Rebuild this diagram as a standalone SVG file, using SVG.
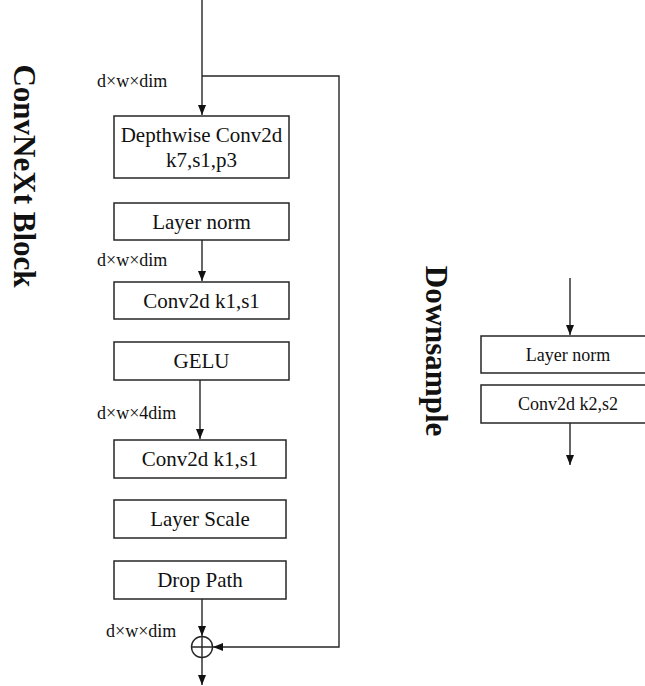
<svg xmlns="http://www.w3.org/2000/svg" width="645" height="686" viewBox="0 0 645 686">
<defs>
<style>
.box{fill:#fff;stroke:#262626;stroke-width:1.5}
.t{font-family:"Liberation Serif","Times New Roman",serif;fill:#111;text-anchor:middle}
.bt{font-size:21px}
.st{font-size:18px}
.lbl{font-family:"Liberation Serif","Times New Roman",serif;fill:#111;font-size:18px}
.ttl{font-family:"Liberation Serif","Times New Roman",serif;font-weight:bold;font-size:31px;fill:#111;text-anchor:middle}
.ln{fill:none;stroke:#262626;stroke-width:1.4}
</style>
<marker id="ah" viewBox="0 0 10 10" refX="10" refY="5" markerWidth="10" markerHeight="10" markerUnits="userSpaceOnUse" orient="auto">
<path d="M0,1 L10,5 L0,9 Z" fill="#111"/>
</marker>
</defs>
<rect width="645" height="686" fill="#fff"/>

<g id="titles">
<text class="ttl" transform="translate(24,176) rotate(90)" y="10">ConvNeXt Block</text>
<text class="ttl" transform="translate(436,351) rotate(90)" y="10">Downsample</text>
</g>

<g id="connectors">
<path class="ln" d="M202,0 V115" marker-end="url(#ah)"/>
<path class="ln" d="M202,76 H339 V647 H213" marker-end="url(#ah)"/>
<path class="ln" d="M202,240 V281" marker-end="url(#ah)"/>
<path class="ln" d="M200,380 V439" marker-end="url(#ah)"/>
<path class="ln" d="M202,599 V636" marker-end="url(#ah)"/>
<path class="ln" d="M202,658 V685" marker-end="url(#ah)"/>
<path class="ln" d="M570,278 V335" marker-end="url(#ah)"/>
<path class="ln" d="M570,423 V465" marker-end="url(#ah)"/>
</g>

<g id="labels">
<text class="lbl" x="97" y="87">d×w×dim</text>
<text class="lbl" x="97" y="266">d×w×dim</text>
<text class="lbl" x="97" y="419">d×w×4dim</text>
<text class="lbl" x="106" y="637">d×w×dim</text>
</g>

<g id="dwconv">
<rect class="box" x="114" y="116" width="175" height="62"/>
<text class="t bt" x="201.5" y="142">Depthwise Conv2d</text>
<text class="t bt" x="201.5" y="167">k7,s1,p3</text>
</g>
<g id="layernorm1">
<rect class="box" x="114" y="203" width="175" height="37"/>
<text class="t bt" x="201.5" y="228.5">Layer norm</text>
</g>
<g id="conv1">
<rect class="box" x="114" y="282" width="175" height="37"/>
<text class="t bt" x="201.5" y="307.5">Conv2d k1,s1</text>
</g>
<g id="gelu">
<rect class="box" x="114" y="342" width="175" height="38"/>
<text class="t bt" x="201.5" y="368">GELU</text>
</g>
<g id="conv2">
<rect class="box" x="114" y="440" width="172" height="38"/>
<text class="t bt" x="200" y="466">Conv2d k1,s1</text>
</g>
<g id="layerscale">
<rect class="box" x="114" y="500" width="172" height="38"/>
<text class="t bt" x="200" y="526">Layer Scale</text>
</g>
<g id="droppath">
<rect class="box" x="114" y="561" width="172" height="38"/>
<text class="t bt" x="200" y="587">Drop Path</text>
</g>
<g id="add">
<circle cx="202" cy="647" r="10.5" fill="#fff" stroke="#262626" stroke-width="1.4"/>
<path class="ln" d="M191.5,647 H212.5 M202,636.5 V657.5"/>
</g>

<g id="ds_layernorm">
<rect class="box" x="481" y="336" width="175" height="37"/>
<text class="t st" x="568" y="360.5">Layer norm</text>
</g>
<g id="ds_conv">
<rect class="box" x="481" y="385" width="175" height="38"/>
<text class="t st" x="568" y="410">Conv2d k2,s2</text>
</g>
</svg>
